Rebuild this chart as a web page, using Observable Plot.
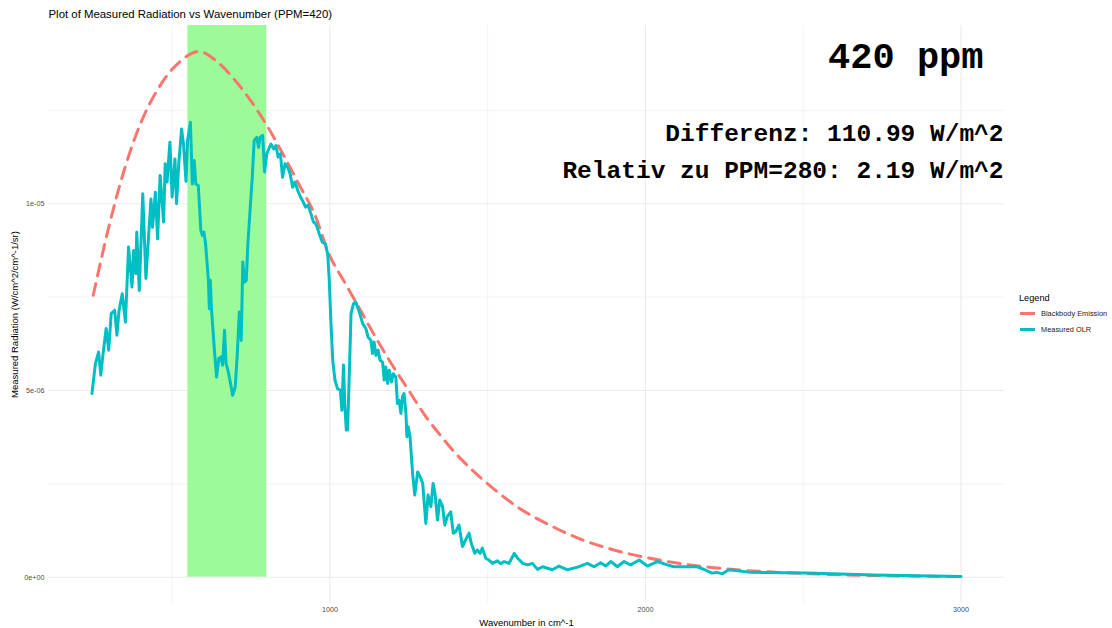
<!DOCTYPE html>
<html><head><meta charset="utf-8">
<script src="https://cdn.jsdelivr.net/npm/d3@7"></script>
<script src="https://cdn.jsdelivr.net/npm/@observablehq/plot@0.6"></script>
<style>
body{margin:0;background:#fff;}
#wrap{position:relative;width:1112px;height:628px;}
</style></head><body><div id="wrap"></div>
<script>
// Measured OLR (values in units of 1e-6 W/cm^2/cm^-1/sr)
const olrWavenumber = [246,257,267,274,280,291,299,307,318,325,332,342,352,362,373,378,385,388,396,407,417,433,438,447,454,462,473,478,484,493,500,509,514,521,530,536,544,549,558,564,570,575,583,591,
596,601,606,615,618,621,625,634,641,648,655,660,666,671,677,687,692,700,706,713,719,724,729,735,740,747,754,760,768,774,779,787,793,800,813,
822,829,836,843,850,858,866,874,882,889,898,907,913,923,931,940,948,956,966,976,985,993,998,1003,1009,1016,1024,1033,1038,1043,1047,1052,1056,1061,1067,1075,1082,1093,1104,1114,1121,1130,1135,1140,1146,1153,1159,1167,1172,1177,1183,1188,1195,1201,1209,1214,1219,1225,1230,1235,1241,
1244,1248,1254,1262,1269,1278,1286,1294,1304,1311,1320,1327,1333,1341,1348,1357,1364,1372,1383,1391,1399,1409,1420,1430,1441,1448,1459,1467,1476,1483,1494,1504,1515,1531,1541,1552,1568,1584,1595,1611,1627,1642,1658,1674,1690,1705,
1726,1753,1785,1816,1837,1858,1874,1890,1911,1932,1953,1980,2006,2038,2069,2090,2133,2164,2185,2211,2227,2243,2264,2333,2512,2724,3000];
const olrValue = [4.92,5.72,6.03,5.41,5.9,6.66,6.08,7.06,7.15,6.48,7.15,7.59,6.83,8.84,7.77,8.75,8.13,9.24,7.68,10.27,8.0,10.13,9.37,10.31,9.06,10.76,9.51,11.07,10.58,11.65,10.18,11.2,10.0,11.07,12.0,11.6,10.6,11.69,12.18,10.53,11.16,10.53,10.49,9.29,
9.15,9.24,8.93,7.95,7.19,7.95,7.15,6.08,5.36,5.86,5.9,5.68,6.61,5.72,5.54,5.10,4.87,5.10,5.9,7.1,6.34,8.44,7.9,7.95,8.93,9.82,10.71,11.69,11.78,11.51,11.78,11.83,10.85,11.34,11.6,
11.47,11.56,11.25,11.34,10.71,11.07,10.98,10.8,10.44,10.58,10.36,10.18,10.09,9.91,9.96,9.73,9.51,9.46,9.2,8.97,8.93,8.66,7.95,6.88,5.81,5.28,5.05,5.01,4.47,5.68,4.65,3.94,3.94,5.28,7.06,7.33,7.37,7.1,6.79,6.66,6.43,6.34,5.99,6.3,5.94,6.08,5.81,5.76,5.28,5.63,5.19,5.54,5.23,5.45,5.36,4.65,4.74,4.39,4.83,4.92,4.39,
3.76,4.03,3.76,2.78,2.2,2.82,2.69,2.51,1.44,2.2,1.89,2.51,2.25,1.53,2.07,1.89,1.40,1.62,1.75,1.18,1.22,1.40,0.82,1.0,1.18,0.91,0.64,0.73,0.64,0.78,0.51,0.46,0.37,0.44,0.36,0.42,0.37,0.64,0.51,0.37,0.33,0.37,0.21,0.28,0.24,0.2,
0.30,0.2,0.27,0.37,0.28,0.39,0.3,0.42,0.28,0.42,0.33,0.46,0.30,0.42,0.33,0.28,0.28,0.28,0.21,0.11,0.13,0.09,0.20,0.13,0.11,0.06,0.02];

// Blackbody emission (values in units of 1e-6 W/cm^2/cm^-1/sr)
const bbWavenumber = [250,300,350,400,450,500,550,576,600,650,700,750,800,850,900,950,1000,1050,1100,1150,1200,1250,1300,1350,1400,1450,1500,1600,1700,1800,1900,2000,2100,2200,2300,2400,2500,2600,2700,2800,2900,3000];
const bbValue = [7.55,9.4,10.95,12.15,13.0,13.6,13.97,14.07,14.05,13.75,13.3,12.75,12.1,11.35,10.55,9.75,8.6,7.85,7.1,6.35,5.65,5.0,4.35,3.8,3.3,2.88,2.5,1.85,1.38,1.0,0.73,0.53,0.38,0.27,0.19,0.14,0.1,0.07,0.05,0.035,0.025,0.018];

// Highlighted band (CO2)
const bandStart = [550];
const bandEnd = [800];

const xMajor = [1000, 2000, 3000];
const xMinor = [500, 1500, 2500];
const yMajor = [0, 5, 10];
const yMinor = [2.5, 7.5, 12.5];
const yTickLabels = ["0e+00", "5e-06", "1e-05"];

const seriesNames = ["Blackbody Emission", "Measured OLR"];
const seriesColors = ["#F8766D", "#00BFC4"];

const olr = olrWavenumber.map((w, i) => ({w, v: olrValue[i]}));
const bb = bbWavenumber.map((w, i) => ({w, v: bbValue[i]}));
const band = bandStart.map((s, i) => ({x1: s, x2: bandEnd[i]}));

const allW = olrWavenumber.concat(bbWavenumber);
const xlo = d3.min(allW), xhi = d3.max(allW);
const xpad = 0.05 * (xhi - xlo);
const ylo = 0, yhi = d3.max(olrValue.concat(bbValue));
const ypad = 0.05 * (yhi - ylo);
const yDomain = [ylo - ypad, yhi + ypad];

const sans = "'Liberation Sans', Arial, sans-serif";
const mono = "'Liberation Mono', 'Courier New', monospace";

const chart = Plot.plot({
  width: 1112, height: 628,
  marginLeft: 48, marginRight: 108, marginTop: 25, marginBottom: 25,
  x: {domain: [xlo - xpad, xhi + xpad], axis: null},
  y: {domain: yDomain, axis: null},
  style: {fontFamily: sans, background: "white", overflow: "visible"},
  marks: [
    Plot.ruleX(xMinor, {stroke: "#EBEBEB", strokeWidth: 0.6}),
    Plot.ruleY(yMinor, {stroke: "#EBEBEB", strokeWidth: 0.6}),
    Plot.ruleX(xMajor, {stroke: "#EBEBEB", strokeWidth: 1.1}),
    Plot.ruleY(yMajor, {stroke: "#EBEBEB", strokeWidth: 1.1}),
    Plot.rect(band, {x1: "x1", x2: "x2", y1: ylo, y2: yDomain[1], fill: "#9CFB98"}),
    Plot.line(bb, {x: "w", y: "v", stroke: seriesColors[0], strokeWidth: 3, strokeDasharray: "12,8", curve: "catmull-rom"}),
    Plot.line(olr, {x: "w", y: "v", stroke: seriesColors[1], strokeWidth: 3, strokeLinejoin: "round"}),
    Plot.axisX(xMajor, {tickSize: 0, tickPadding: 3, tickFormat: d => String(d), fontSize: 7.2, color: "#4D4D4D", label: null}),
    Plot.axisY(yMajor, {tickSize: 0, tickPadding: 4, tickFormat: d => yTickLabels[yMajor.indexOf(d)], fontSize: 7.2, color: "#4D4D4D", label: null}),
    Plot.text(["Plot of Measured Radiation vs Wavenumber (PPM=420)"], {text: d => d, frameAnchor: "top-left", textAnchor: "start", lineAnchor: "middle", dy: -11, fontSize: 11.4, fill: "black"}),
    Plot.text(["Wavenumber in cm^-1"], {text: d => d, frameAnchor: "bottom", textAnchor: "middle", lineAnchor: "middle", dy: 19, fontSize: 9.5, fill: "black"}),
    Plot.text(["Measured Radiation (W/cm^2/cm^-1/sr)"], {text: d => d, frameAnchor: "left", textAnchor: "middle", lineAnchor: "middle", rotate: -90, dx: -34, fontSize: 9.5, fill: "black"}),
    Plot.text(["420 ppm"], {text: d => d, frameAnchor: "top-right", textAnchor: "end", lineAnchor: "bottom", dx: -21, dy: 42, fontSize: 37, fontWeight: "bold", fontFamily: mono, fill: "black"}),
    Plot.text(["Differenz: 110.99 W/m^2"], {text: d => d, frameAnchor: "top-right", textAnchor: "end", lineAnchor: "bottom", dx: -1, dy: 115, fontSize: 24.5, fontWeight: "bold", fontFamily: mono, fill: "black"}),
    Plot.text(["Relativ zu PPM=280: 2.19 W/m^2"], {text: d => d, frameAnchor: "top-right", textAnchor: "end", lineAnchor: "bottom", dx: -1, dy: 152, fontSize: 24.5, fontWeight: "bold", fontFamily: mono, fill: "black"})
  ]
});
document.getElementById("wrap").appendChild(chart);

// Legend (ggplot-style, right side)
const svg = d3.select(chart);
const lg = svg.append("g").attr("font-family", sans).attr("text-anchor", "start");
lg.append("text").attr("x", 1019).attr("y", 300.5).attr("font-size", 9.2).attr("fill", "black").attr("text-anchor", "start").text("Legend");
seriesNames.forEach((name, i) => {
  const cy = 313.5 + i * 16;
  lg.append("line").attr("x1", 1020).attr("x2", 1035).attr("y1", cy).attr("y2", cy)
    .attr("stroke", seriesColors[i]).attr("stroke-width", 3);
  lg.append("text").attr("x", 1041).attr("y", cy + 2.6).attr("font-size", 7.4).attr("fill", "#1a1a1a").attr("text-anchor", "start").text(name);
});
</script></body></html>
